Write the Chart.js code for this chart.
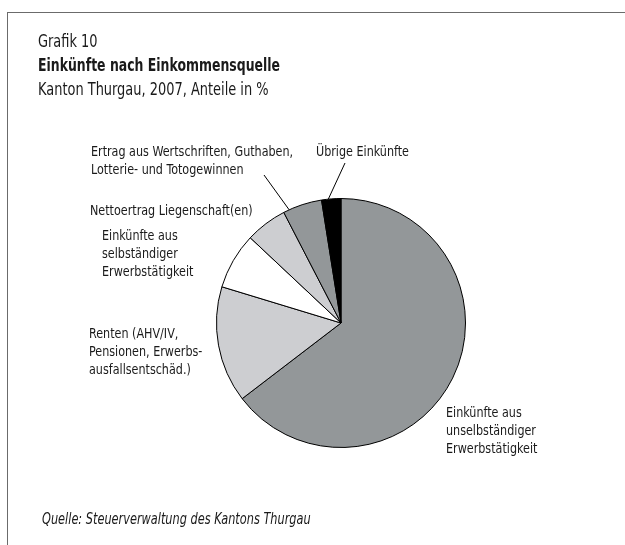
<!DOCTYPE html>
<html>
<head>
<meta charset="utf-8">
<script src="https://cdn.jsdelivr.net/npm/chart.js@4.4.1/dist/chart.umd.min.js"></script>
<style>
    html, body { margin: 0; padding: 0; background: #fff; }
    body { width: 625px; height: 545px; position: relative; overflow: hidden;
           font-family: "Liberation Sans Narrow", "DejaVu Sans Condensed", "Liberation Sans", sans-serif; color: #1a1a1a; }
    #frame { position: absolute; left: 7px; top: 12px; width: 640px; height: 560px;
             border-left: 1px solid #6b6b6b; border-top: 1px solid #6b6b6b; }
    #chartBox { position: absolute; left: 0; top: 0; width: 625px; height: 545px; }
    .t { position: absolute; white-space: nowrap; transform-origin: left top; }
    .title { left: 38px; font-size: 18px; line-height: 23px; transform: scaleX(0.8); }
    .title.bold { transform: scaleX(0.77); }
    .lbl { font-size: 13.5px; line-height: 18px; transform: scaleX(0.92); }
    .src { left: 42px; top: 510px; font-size: 15px; font-style: italic; transform: scaleX(0.84); }
</style>
</head>
<body>
<div id="frame"></div>
<div id="chartBox"><canvas id="pieChart" width="625" height="545"></canvas></div>

<div class="t title" style="top:29px;">Grafik 10</div>
<div class="t title bold" style="top:53px; font-weight:bold;">Einkünfte nach Einkommensquelle</div>
<div class="t title" style="top:77px;">Kanton Thurgau, 2007, Anteile in %</div>

<div class="t lbl" style="left:91px; top:142px;">Ertrag aus Wertschriften, Guthaben,<br>Lotterie- und Totogewinnen</div>
<div class="t lbl" style="left:316px; top:142px;">Übrige Einkünfte</div>
<div class="t lbl" style="left:90px; top:201px;">Nettoertrag Liegenschaft(en)</div>
<div class="t lbl" style="left:102px; top:226px;">Einkünfte aus<br>selbständiger<br>Erwerbstätigkeit</div>
<div class="t lbl" style="left:89px; top:324px;">Renten (AHV/IV,<br>Pensionen, Erwerbs-<br>ausfallsentschäd.)</div>
<div class="t lbl" style="left:446px; top:403px;">Einkünfte aus<br>unselbständiger<br>Erwerbstätigkeit</div>

<div class="t src">Quelle: Steuerverwaltung des Kantons Thurgau</div>

<script>
// Anteile in %, im Uhrzeigersinn ab 12 Uhr
const categories = [
    "Einkünfte aus unselbständiger Erwerbstätigkeit",
    "Renten (AHV/IV, Pensionen, Erwerbsausfallsentschäd.)",
    "Einkünfte aus selbständiger Erwerbstätigkeit",
    "Nettoertrag Liegenschaft(en)",
    "Ertrag aus Wertschriften, Guthaben, Lotterie- und Totogewinnen",
    "Übrige Einkünfte"
];
const shares = [64.6, 15.1, 7.3, 5.4, 5.1, 2.5];
const sliceColors = ["#939799", "#cdced1", "#ffffff", "#cdced1", "#939799", "#000000"];

// leader lines: slice index -> outer end of the line
const leaders = [
    { index: 4, x: 264, y: 175, at: 0.15 },
    { index: 5, x: 345, y: 163, at: 0.35 }
];

const leaderPlugin = {
    id: "leaderLines",
    afterDatasetsDraw(chart) {
        const ctx = chart.ctx;
        const meta = chart.getDatasetMeta(0);
        ctx.save();
        ctx.strokeStyle = "#000";
        ctx.lineWidth = 1;
        leaders.forEach(l => {
            const arc = meta.data[l.index];
            const p = arc.getProps(["x", "y", "startAngle", "endAngle", "outerRadius"], true);
            const a = p.startAngle + (p.endAngle - p.startAngle) * l.at;
            const ex = p.x + Math.cos(a) * p.outerRadius;
            const ey = p.y + Math.sin(a) * p.outerRadius;
            ctx.beginPath();
            ctx.moveTo(l.x, l.y);
            ctx.lineTo(ex, ey);
            ctx.stroke();
        });
        ctx.restore();
    }
};

const ctx = document.getElementById("pieChart").getContext("2d");
const pieChart = new Chart(ctx, {
    type: "pie",
    data: {
        labels: categories,
        datasets: [{
            data: shares,
            backgroundColor: sliceColors,
            borderColor: "#000",
            borderWidth: 1
        }]
    },
    options: {
        responsive: false,
        animation: false,
        layout: { padding: { left: 216, right: 159, top: 198, bottom: 97 } },
        plugins: { legend: { display: false }, tooltip: { enabled: false } }
    },
    plugins: [leaderPlugin]
});
</script>
</body>
</html>
